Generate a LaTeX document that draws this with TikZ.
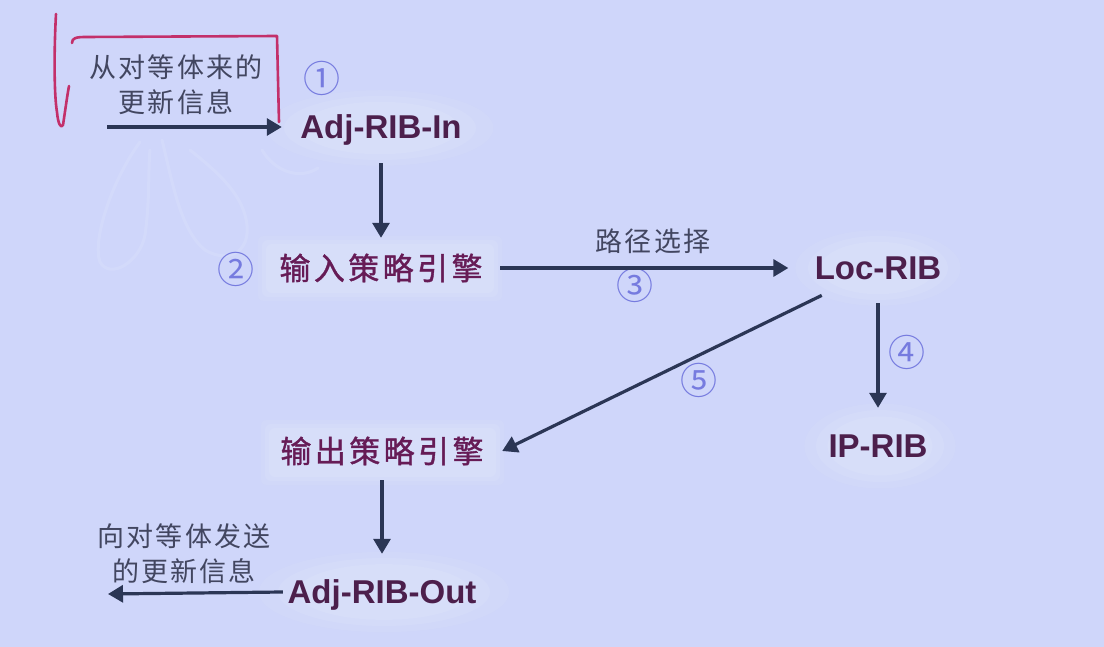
\documentclass[tikz,border=0pt]{standalone}
\usepackage{fontspec}
\setmainfont{Liberation Sans}
\newfontfamily\cjkfont[LetterSpace=8]{Noto Sans CJK SC}
\newfontfamily\cjkboldfont[FakeBold=1.2,LetterSpace=11]{Noto Sans CJK SC}
\newfontfamily\numfont{Noto Sans CJK SC}
\usetikzlibrary{arrows.meta,shapes.geometric}

\definecolor{paper}{HTML}{CFD6FA}
\definecolor{blob}{HTML}{D9E0F9}
\definecolor{ink}{HTML}{2B3655}
\definecolor{ribtext}{HTML}{4C1F4C}
\definecolor{poltext}{HTML}{661B56}
\definecolor{notetext}{HTML}{424660}
\definecolor{circnum}{HTML}{767BDF}
\definecolor{marker}{HTML}{C3306A}

\begin{document}
\begin{tikzpicture}[x=1pt,y=-1pt,
  rib/.style={font=\fontsize{33}{38}\selectfont\bfseries, text=ribtext,
              inner sep=0pt, text height=23.6pt, text depth=0pt},
  pol/.style={font=\cjkboldfont\fontsize{31}{36}\selectfont, text=poltext,
              inner sep=0pt, text height=27.3pt, text depth=3.7pt},
  note/.style={font=\cjkfont\fontsize{27}{35}\selectfont, text=notetext,
               align=center, inner sep=0pt},
  num/.style={font=\numfont\fontsize{37}{37}\selectfont, text=circnum, inner sep=0pt},
  arr/.style={draw=ink, line width=3.2pt, -{Triangle[length=15pt,width=17pt]}},
  redpen/.style={draw=marker, line width=2.6pt, line cap=round, line join=round},
  ghost/.style={draw=white, line width=3pt, opacity=0.1, line cap=round},
]
% page
\fill[paper] (0,0) rectangle (1104,647);
\useasboundingbox (0,0) rectangle (1104,647);

% faint leftover pen strokes
\draw[ghost] (140,142) .. controls (112,180) and (92,240) .. (100,262)
             .. controls (110,280) and (140,262) .. (145,235)
             .. controls (150,200) and (148,170) .. (150,150);
\draw[ghost] (162,140) .. controls (172,180) and (180,230) .. (205,250)
             .. controls (230,265) and (255,250) .. (245,215)
             .. controls (238,190) and (215,170) .. (190,150);
\draw[ghost] (262,150) .. controls (275,172) and (300,180) .. (318,168);

% soft backdrops behind the entries
\foreach \s/\o in {1.18/0.25,1.0/0.4,0.82/0.6} {
  \fill[blob, opacity=\o] (380,128) ellipse [x radius=\s*96, y radius=\s*32];
  \fill[blob, opacity=\o] (878,268) ellipse [x radius=\s*70, y radius=\s*32];
  \fill[blob, opacity=\o] (880,446) ellipse [x radius=\s*64, y radius=\s*36];
  \fill[blob, opacity=\o] (384,592) ellipse [x radius=\s*106, y radius=\s*34];
}
\foreach \d/\o in {4/0.25,0/0.4,-4/0.6} {
  \fill[blob, opacity=\o, rounded corners=6pt] (262-\d,240-\d) rectangle (498+\d,297+\d);
  \fill[blob, opacity=\o, rounded corners=6pt] (265-\d,424-\d) rectangle (500+\d,481+\d);
}

% entries
\node[rib, minimum width=198pt, minimum height=72pt] (adjin) at (381,127) {Adj-RIB-In};
\node[pol, minimum width=238pt, minimum height=60pt] (inpol) at (381,268) {输入策略引擎};
\node[rib, shape=ellipse, minimum width=150pt, minimum height=70pt] (loc) at (878,268) {Loc-RIB};
\node[rib, minimum width=120pt, minimum height=76pt] (iprib) at (878,446) {IP-RIB};
\node[pol, minimum width=240pt, minimum height=58pt] (outpol) at (382,451) {输出策略引擎};
\node[rib, minimum width=198pt, minimum height=76pt] (adjout) at (382,592) {Adj-RIB-Out};

% notes
\node[note] (fromPeer) at (176,85) {从对等体来的\\更新信息};
\node[note] (toPeer) at (184,554) {向对等体发送\\的更新信息};
\node[note] (pathSel) at (653,241) {路径选择};

% step numbers
\node[num] (n1) at (322,78) {①};
\node[num] (n2) at (236,269) {②};
\node[num] (n3) at (635,285) {③};
\node[num] (n4) at (907,352) {④};
\node[num] (n5) at (699,380) {⑤};

% flow
\coordinate (inFree) at (107,127);
\coordinate (outFree) at (108,594);
\draw[arr] (inFree) -- (adjin.west);
\draw[arr] (adjin) -- (inpol);
\draw[arr] (inpol.east) -- (loc);
\draw[arr] (loc) -- (iprib);
\draw[arr] (loc) -- (outpol.east);
\draw[arr] (outpol) -- (adjout);
\draw[arr] (adjout.west) -- (outFree);

% red pen marks
\draw[redpen] (56,14) .. controls (54,50) and (54,95) .. (57,112)
              .. controls (58,124) and (61,129) .. (63,125)
              .. controls (65,112) and (67,97) .. (69,86);
\draw[redpen] (72,43) .. controls (72,38) and (76,37) .. (86,37)
              -- (277,36) -- (279,122);
\end{tikzpicture}
\end{document}
